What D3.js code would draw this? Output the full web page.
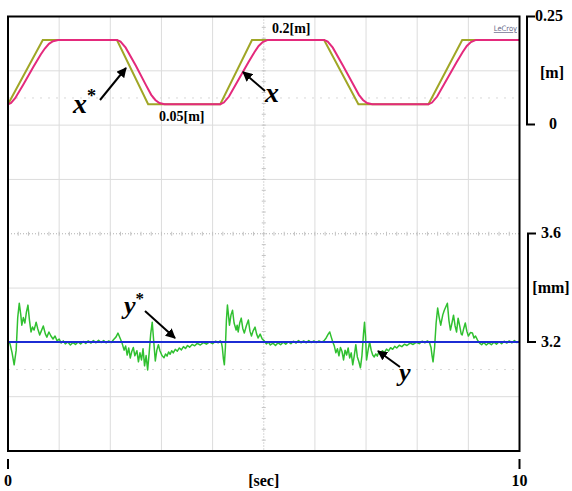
<!DOCTYPE html>
<html>
<head>
<meta charset="utf-8">
<script src="https://cdn.jsdelivr.net/npm/d3@7"></script>
<style>
body { margin: 0; background: #fff; }
text { font-family: "Liberation Serif", "Times New Roman", serif; font-weight: bold; }
</style>
</head>
<body>
<div id="chart"></div>
<script>
// ---- data ----
const timeTicks = [0, 10];
const posTicks = [0, 0.25];
const latTicks = [3.2, 3.6];

// x* reference position [s, m]
const xRef = [[0,0.05],[0.68,0.2],[2.13,0.2],[2.74,0.05],[4.15,0.05],[4.77,0.2],
  [6.18,0.2],[6.85,0.05],[8.22,0.05],[8.88,0.2],[10,0.2]];

// x measured position [s, m]
const xMeas = [[0,0.050],[0.06,0.053],[0.14,0.064],[0.30,0.096],[0.50,0.138],[0.64,0.166],
  [0.72,0.180],[0.80,0.191],[0.88,0.197],[0.98,0.200],[2.13,0.200],[2.20,0.196],[2.30,0.182],
  [2.50,0.140],[2.70,0.094],[2.80,0.072],[2.88,0.060],[2.96,0.053],[3.06,0.050],[4.15,0.050],
  [4.22,0.054],[4.32,0.068],[4.50,0.106],[4.70,0.148],[4.82,0.172],[4.90,0.186],[4.98,0.195],
  [5.08,0.200],[6.18,0.200],[6.25,0.196],[6.35,0.182],[6.55,0.140],[6.75,0.096],[6.86,0.072],
  [6.94,0.060],[7.02,0.053],[7.12,0.050],[8.22,0.050],[8.29,0.054],[8.39,0.068],[8.57,0.106],
  [8.77,0.148],[8.89,0.172],[8.97,0.186],[9.05,0.195],[9.15,0.200],[10,0.200]];

// y* reference lateral [s, mm]
const yRef = [[0,3.2],[10,3.2]];

// y measured lateral [s, mm]
const yMeas = [
  [0.00,3.204],[0.04,3.193],[0.08,3.160],[0.12,3.116],[0.16,3.170],[0.19,3.290],[0.22,3.343],
  [0.25,3.300],[0.27,3.262],[0.30,3.290],[0.33,3.270],[0.36,3.310],[0.39,3.336],[0.42,3.280],
  [0.45,3.237],[0.48,3.255],[0.51,3.244],[0.55,3.273],[0.58,3.250],[0.62,3.226],[0.65,3.240],
  [0.69,3.259],[0.73,3.230],[0.76,3.218],[0.80,3.237],[0.84,3.222],[0.88,3.211],[0.92,3.222],
  [0.96,3.204],[1.00,3.211],[1.04,3.196],[1.08,3.204],[1.12,3.193],[1.17,3.200],[1.22,3.189],
  [1.27,3.198],[1.32,3.191],[1.37,3.200],[1.42,3.193],[1.47,3.202],[1.52,3.195],[1.57,3.204],
  [1.62,3.196],[1.67,3.205],[1.72,3.197],[1.77,3.206],[1.82,3.198],[1.87,3.205],[1.92,3.197],
  [1.97,3.204],[2.02,3.198],[2.07,3.210],[2.11,3.218],[2.15,3.233],[2.19,3.215],
  [2.23,3.196],[2.27,3.170],[2.30,3.185],[2.33,3.152],[2.36,3.178],[2.39,3.141],[2.42,3.165],
  [2.45,3.180],[2.48,3.149],[2.52,3.168],[2.55,3.127],[2.58,3.160],[2.61,3.134],[2.64,3.175],
  [2.67,3.112],[2.70,3.150],[2.73,3.097],[2.76,3.160],[2.79,3.230],[2.82,3.273],[2.85,3.200],
  [2.88,3.130],[2.91,3.170],[2.94,3.190],[2.97,3.168],[3.01,3.150],
  [3.05,3.142],[3.08,3.156],[3.11,3.148],[3.14,3.163],[3.17,3.155],[3.20,3.168],[3.23,3.160],
  [3.27,3.173],[3.31,3.166],[3.35,3.178],[3.39,3.171],[3.43,3.183],[3.47,3.176],[3.51,3.187],
  [3.55,3.181],[3.60,3.191],[3.65,3.186],[3.70,3.195],[3.76,3.189],[3.82,3.198],[3.88,3.192],
  [3.94,3.200],[4.00,3.194],[4.06,3.203],[4.11,3.197],[4.15,3.204],
  [4.17,3.200],[4.19,3.180],[4.21,3.140],[4.23,3.116],[4.25,3.180],[4.27,3.280],[4.29,3.336],
  [4.31,3.300],[4.33,3.262],[4.36,3.300],[4.39,3.317],[4.42,3.270],[4.46,3.244],[4.48,3.262],
  [4.50,3.237],[4.53,3.270],[4.56,3.288],[4.59,3.250],[4.62,3.233],[4.66,3.260],[4.70,3.281],
  [4.73,3.240],[4.76,3.222],[4.79,3.240],[4.83,3.255],[4.86,3.230],[4.89,3.215],[4.93,3.229],
  [4.97,3.211],[5.01,3.204],[5.05,3.193],[5.09,3.200],[5.13,3.189],[5.18,3.196],[5.23,3.187],
  [5.28,3.197],[5.33,3.190],[5.38,3.199],[5.43,3.192],[5.48,3.201],[5.53,3.194],[5.58,3.203],
  [5.63,3.196],[5.68,3.205],[5.73,3.197],[5.78,3.204],[5.83,3.197],[5.88,3.205],[5.93,3.198],
  [5.98,3.204],[6.03,3.198],[6.08,3.204],[6.13,3.199],
  [6.18,3.205],[6.22,3.215],[6.26,3.229],[6.29,3.237],[6.32,3.218],[6.35,3.200],[6.38,3.185],
  [6.41,3.160],[6.44,3.175],[6.47,3.149],[6.50,3.180],[6.53,3.165],[6.56,3.134],[6.59,3.170],
  [6.62,3.152],[6.65,3.178],[6.68,3.141],[6.71,3.160],[6.74,3.116],[6.77,3.150],[6.80,3.190],
  [6.83,3.145],[6.86,3.127],[6.89,3.105],[6.92,3.150],[6.95,3.230],[6.97,3.273],[6.99,3.220],
  [7.01,3.134],[7.04,3.170],[7.07,3.200],[7.10,3.170],[7.13,3.152],[7.16,3.145],
  [7.19,3.156],[7.22,3.148],[7.25,3.163],[7.28,3.155],[7.32,3.168],[7.36,3.161],[7.40,3.174],
  [7.44,3.167],[7.48,3.179],[7.52,3.173],[7.56,3.184],[7.60,3.178],[7.65,3.188],[7.70,3.183],
  [7.75,3.192],[7.80,3.187],[7.86,3.196],[7.92,3.191],[7.98,3.199],[8.04,3.194],[8.10,3.203],
  [8.15,3.197],[8.20,3.204],
  [8.24,3.198],[8.27,3.180],[8.29,3.150],[8.31,3.127],[8.34,3.180],[8.37,3.270],[8.40,3.325],
  [8.43,3.290],[8.46,3.262],[8.50,3.300],[8.53,3.317],[8.56,3.330],[8.59,3.343],[8.62,3.280],
  [8.65,3.244],[8.68,3.270],[8.71,3.299],[8.74,3.260],[8.77,3.237],[8.80,3.288],[8.83,3.260],
  [8.86,3.230],[8.88,3.226],[8.91,3.250],[8.94,3.270],[8.97,3.240],[9.00,3.222],[9.04,3.235],
  [9.08,3.233],[9.11,3.215],[9.14,3.222],[9.18,3.207],[9.22,3.196],[9.26,3.190],[9.30,3.198],
  [9.35,3.189],[9.40,3.197],[9.45,3.190],[9.50,3.199],[9.55,3.192],[9.60,3.201],[9.65,3.194],
  [9.70,3.203],[9.75,3.196],[9.80,3.204],[9.85,3.197],[9.90,3.205],[9.95,3.198],[10.00,3.203]
];

// ---- drawing ----
const width = 572, height = 491;
const frame = { left: 8, top: 16.5, right: 519.5, bottom: 451 };

const svg = d3.select("#chart").append("svg")
  .attr("width", width).attr("height", height);

const x = d3.scaleLinear().domain([0, 10]).range([frame.left, frame.right]);
const yPos = d3.scaleLinear().domain([0, 0.25]).range([125.7, 18.5]);
const yLat = d3.scaleLinear().domain([3.2, 3.6]).range([342, 233.5]);
const div = d3.scaleLinear().domain([0, 8]).range([frame.top, frame.bottom]);

// grid
const grid = svg.append("g");
grid.selectAll(".vg").data(d3.range(1, 10).filter(d => d !== 5)).enter().append("line")
  .attr("x1", d => x(d)).attr("x2", d => x(d))
  .attr("y1", frame.top).attr("y2", frame.bottom)
  .attr("stroke", "#dcdcdc").attr("stroke-width", 1);
grid.selectAll(".hg").data(d3.range(1, 8).filter(d => d !== 4)).enter().append("line")
  .attr("x1", frame.left).attr("x2", frame.right)
  .attr("y1", d => div(d)).attr("y2", d => div(d))
  .attr("stroke", "#dcdcdc").attr("stroke-width", 1);
// faint dotted half-division lines
grid.selectAll(".hd").data([1.5, 6.5]).enter().append("line")
  .attr("x1", frame.left).attr("x2", frame.right)
  .attr("y1", d => div(d)).attr("y2", d => div(d))
  .attr("stroke", "#d8d8d8").attr("stroke-dasharray", "2,6");
// center crosshair, dotted with small ticks
grid.append("line")
  .attr("x1", x(5)).attr("x2", x(5)).attr("y1", frame.top).attr("y2", frame.bottom)
  .attr("stroke", "#b0b0b0").attr("stroke-dasharray", "1,2");
grid.append("line")
  .attr("x1", frame.left).attr("x2", frame.right).attr("y1", div(4)).attr("y2", div(4))
  .attr("stroke", "#b0b0b0").attr("stroke-dasharray", "1,2");
grid.selectAll(".ct").data(d3.range(1, 40)).enter().append("line")
  .attr("x1", x(5) - 2).attr("x2", x(5) + 2)
  .attr("y1", d => div(d / 5)).attr("y2", d => div(d / 5))
  .attr("stroke", "#c4c4c4");
grid.selectAll(".ch").data(d3.range(1, 50)).enter().append("line")
  .attr("y1", div(4) - 2).attr("y2", div(4) + 2)
  .attr("x1", d => x(d / 5)).attr("x2", d => x(d / 5))
  .attr("stroke", "#c4c4c4");

// traces
const linePos = d3.line().x(d => x(d[0])).y(d => yPos(d[1]));
const lineLat = d3.line().x(d => x(d[0])).y(d => yLat(d[1]));

svg.append("path").datum(xRef).attr("d", linePos)
  .attr("fill", "none").attr("stroke", "#a0a626").attr("stroke-width", 2);
svg.append("path").datum(xMeas).attr("d", linePos)
  .attr("fill", "none").attr("stroke", "#e42a7c").attr("stroke-width", 2);

svg.append("path").datum(yMeas).attr("d", lineLat)
  .attr("fill", "none").attr("stroke", "#30c030").attr("stroke-width", 1.5)
  .attr("stroke-linejoin", "round");
svg.append("path").datum(yRef).attr("d", lineLat)
  .attr("fill", "none").attr("stroke", "#1c2cd4").attr("stroke-width", 2.2);

// frame
svg.append("rect")
  .attr("x", frame.left).attr("y", frame.top)
  .attr("width", frame.right - frame.left).attr("height", frame.bottom - frame.top)
  .attr("fill", "none").attr("stroke", "#000").attr("stroke-width", 2);

svg.append("text").attr("x", 517).attr("y", 31)
  .attr("text-anchor", "end")
  .style("font-family", "'DejaVu Sans Condensed', 'DejaVu Sans', sans-serif")
  .style("font-weight", "normal").style("font-size", "7.5px")
  .style("text-decoration", "underline")
  .attr("fill", "#6a6a8a").text("LeCroy");

// right brackets
function bracket(scale, ticks, x0, len) {
  svg.append("path")
    .attr("d", `M${x0 + len},${scale(ticks[1])}H${x0}V${scale(ticks[0])}H${x0 + len}`)
    .attr("fill", "none").attr("stroke", "#000").attr("stroke-width", 2);
}
bracket(d3.scaleLinear().domain(posTicks).range([124.5, 16.5]), posTicks, 527, 8);
bracket(yLat, latTicks, 528, 8);

svg.append("text").attr("x", 535).attr("y", 17).attr("dominant-baseline", "middle")
  .style("font-size", "16px").text(d3.format(".2f")(posTicks[1]));
svg.append("text").attr("x", 553).attr("y", 125).attr("dominant-baseline", "middle")
  .attr("text-anchor", "middle").style("font-size", "16px").text(posTicks[0]);
svg.append("text").attr("x", 552).attr("y", 74).attr("dominant-baseline", "middle")
  .attr("text-anchor", "middle").style("font-size", "16px").text("[m]");

svg.selectAll(".lt").data(latTicks).enter().append("text")
  .attr("x", 541).attr("y", d => yLat(d) + 1).attr("dominant-baseline", "middle")
  .style("font-size", "16px").text(d => d3.format(".1f")(d));
svg.append("text").attr("x", 551).attr("y", 289).attr("dominant-baseline", "middle")
  .attr("text-anchor", "middle").style("font-size", "16px").text("[mm]");

// time axis
svg.selectAll(".tt").data(timeTicks).enter().append("line")
  .attr("x1", d => x(d)).attr("x2", d => x(d)).attr("y1", 459).attr("y2", 469)
  .attr("stroke", "#000").attr("stroke-width", 2);
svg.selectAll(".tl").data(timeTicks).enter().append("text")
  .attr("x", d => x(d)).attr("y", 486).attr("text-anchor", "middle")
  .style("font-size", "16px").text(d => d);
svg.append("text").attr("x", x(5)).attr("y", 486).attr("text-anchor", "middle")
  .style("font-size", "16px").text("[sec]");

// value annotations
svg.append("text").attr("x", 272).attr("y", 33).style("font-size", "14px").text("0.2[m]");
svg.append("text").attr("x", 159).attr("y", 121).style("font-size", "14px").text("0.05[m]");

// arrows
svg.append("defs").append("marker").attr("id", "ah")
  .attr("viewBox", "0 0 10 10").attr("refX", 9).attr("refY", 5)
  .attr("markerWidth", 5).attr("markerHeight", 5).attr("orient", "auto")
  .append("path").attr("d", "M0,0L10,5L0,10z").attr("fill", "#000");

const arrows = [
  [[100, 100], [126, 68]],
  [[265, 91], [243, 72]],
  [[145, 311], [175, 338]],
  [[400, 367], [378, 351]]
];
svg.selectAll(".ar").data(arrows).enter().append("line")
  .attr("x1", d => d[0][0]).attr("y1", d => d[0][1])
  .attr("x2", d => d[1][0]).attr("y2", d => d[1][1])
  .attr("stroke", "#000").attr("stroke-width", 2).attr("marker-end", "url(#ah)");

function sym(tx, ty, letter, star, size) {
  const t = svg.append("text").attr("x", tx).attr("y", ty)
    .style("font-style", "italic").style("font-size", size + "px");
  t.append("tspan").text(letter);
  if (star) t.append("tspan").attr("dy", -size * 0.4).style("font-size", (size * 0.65) + "px")
    .style("font-style", "normal").text("*");
}
sym(73, 113, "x", true, 28);
sym(265, 102, "x", false, 28);
sym(124, 314, "y", true, 26);
sym(399, 381, "y", false, 26);
</script>
</body>
</html>
